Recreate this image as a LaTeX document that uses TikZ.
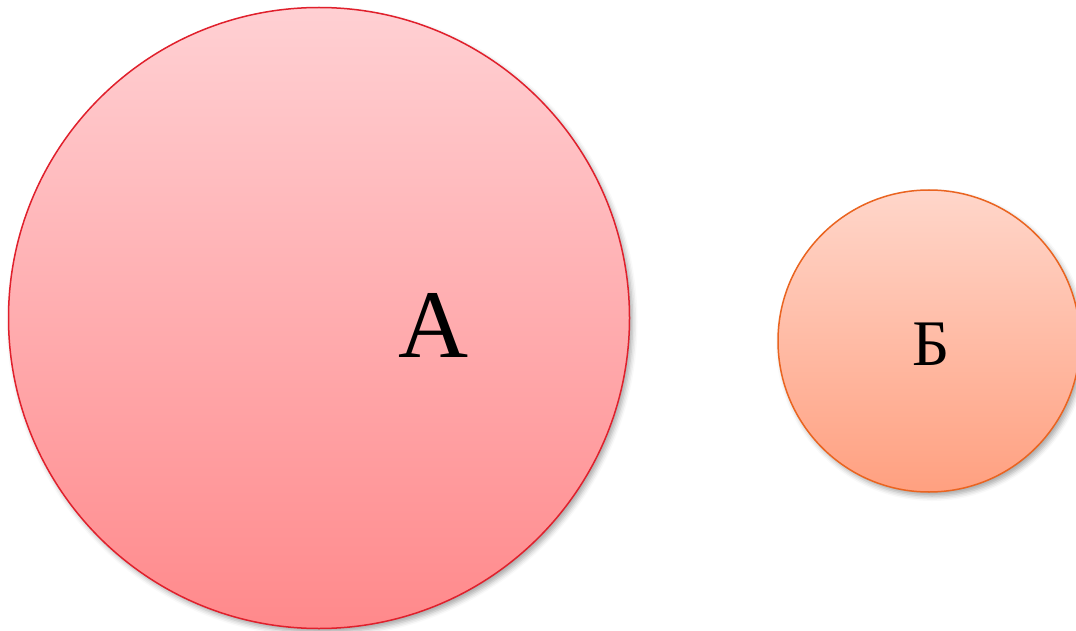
\documentclass[tikz,border=0pt]{standalone}
\usepackage{fontspec}
\setmainfont{Liberation Serif}
\usetikzlibrary{shadows.blur}
\definecolor{bigtop}{RGB}{255,208,211}
\definecolor{bigbot}{RGB}{255,137,139}
\definecolor{bigline}{RGB}{224,32,44}
\definecolor{smalltop}{RGB}{255,214,202}
\definecolor{smallbot}{RGB}{255,160,128}
\definecolor{smallline}{RGB}{234,100,32}
\tikzset{
  ball/.style={circle, inner sep=0pt, line width=1.5pt,
    blur shadow={shadow xshift=3pt, shadow yshift=-4pt, shadow blur radius=5pt, shadow opacity=35}},
  lbl/.style={inner sep=0pt, text=black}
}
\begin{document}
\begin{tikzpicture}[x=1pt,y=-1pt]
\useasboundingbox (0,0) rectangle (1076,631);
\node[ball, draw=bigline, top color=bigtop, bottom color=bigbot, minimum size=621pt] (A) at (319,318) {};
\node[ball, draw=smallline, top color=smalltop, bottom color=smallbot, minimum size=302pt] (B) at (929,341) {};
\node[lbl, font=\fontsize{97}{100}\selectfont] (la) at (434,325) {А};
\node[lbl, font=\fontsize{65}{68}\selectfont] (lb) at (931,344) {Б};
\end{tikzpicture}
\end{document}
